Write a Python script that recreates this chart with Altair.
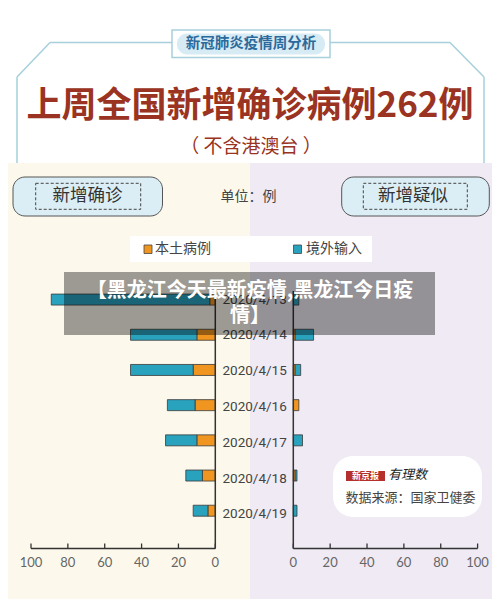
import altair as alt
import pandas as pd

# ---------------- data ----------------
dates = ["2020/4/13", "2020/4/14", "2020/4/15", "2020/4/16", "2020/4/17", "2020/4/18", "2020/4/19"]
confirmed_local = [3, 10, 12, 11, 10, 7, 4]
confirmed_imported = [86, 36, 34, 15, 17, 9, 8]
suspect_local = [0, 1, 1, 3, 0, 1, 0]
suspect_imported = [3, 10, 3, 0, 5, 1, 2]
series = ["本土病例", "境外输入"]
series_colors = ["#F0951F", "#29A2BE"]
tick_values = [0, 20, 40, 60, 80, 100]

tag_text = "新冠肺炎疫情周分析"
title_main = "上周全国新增确诊病例262例"
title_sub = "（ 不含港澳台 ）"
left_head = "新增确诊"
right_head = "新增疑似"
unit_text = "单位：例"
banner_l1 = "【黑龙江今天最新疫情,黑龙江今日疫"
banner_l2 = "情】"
brand_text = "新京报"
brand_sub = "有理数"
source_text = "数据来源：国家卫健委"

# ---------------- layout ----------------
W, H, OFF = 484, 591, 8
def P(v):
    return v - OFF

FONT = "Noto Sans CJK SC"
LZ, RZ, PPU = P(215.3), P(293.3), 1.843
Y0, STEP = P(299.5), 35.8

xL = alt.Scale(domain=[(LZ - W) / PPU, LZ / PPU], reverse=True, nice=False, zero=False)
xR = alt.Scale(domain=[-RZ / PPU, (W - RZ) / PPU], nice=False, zero=False)
yS = alt.Scale(domain=[-Y0 / STEP, (H - Y0) / STEP], reverse=True, nice=False, zero=False)

one = pd.DataFrame({"k": [0]})


def rect(x1, x2, y1, y2, **kw):
    return alt.Chart(one).mark_rect(**kw).encode(
        x=alt.value(P(x1)), x2=alt.value(P(x2)), y=alt.value(P(y1)), y2=alt.value(P(y2)))


def rule(x1, y1, x2, y2, **kw):
    return alt.Chart(one).mark_rule(**kw).encode(
        x=alt.value(P(x1)), y=alt.value(P(y1)), x2=alt.value(P(x2)), y2=alt.value(P(y2)))


def label(txt, x, y, **kw):
    kw.setdefault("font", FONT)
    return alt.Chart(one).mark_text(text=txt, baseline="middle", **kw).encode(
        x=alt.value(P(x)), y=alt.value(P(y)))


layers = []
# backgrounds
layers.append(rect(0, 250, 163, 599, fill="#FCF9EC"))
layers.append(rect(250, 492, 163, 599, fill="#EFEAF4"))

# header frame
LINE = "#A6D0DC"
layers += [
    rule(50, 42.5, 172, 42.5, color=LINE, strokeWidth=1.5),
    rule(330, 42.5, 450, 42.5, color=LINE, strokeWidth=1.5),
    rule(50, 42.5, 17, 77, color=LINE, strokeWidth=1.5),
    rule(450, 42.5, 484, 77, color=LINE, strokeWidth=1.5),
    rule(17, 77, 17, 163, color=LINE, strokeWidth=1.5),
    rule(484, 77, 484, 163, color=LINE, strokeWidth=1.5),
    rect(172, 330, 30, 57.5, fill="white", stroke=LINE, strokeWidth=1.5),
    rect(177, 325, 33.5, 54.5, fill="#D7EBF5", cornerRadius=10),
    label(tag_text, 251, 44, fontSize=14.5, fontWeight="bold", color="#2C6A9C"),
    label(title_main, 250, 106, fontSize=35, fontWeight="bold", color="#9A3322"),
    label(title_sub, 251, 147, fontSize=19, color="#9A3322"),
]

# panel headers
for (bx1, bx2, dx1, dx2, txt, tx) in [(13, 162.5, 35.7, 140.7, left_head, 87.5),
                                       (341.7, 489.3, 363.3, 467.3, right_head, 413)]:
    layers.append(rect(bx1, bx2, 177, 216, fill="#DCEEF5", stroke="#555", strokeWidth=1, cornerRadius=12))
    layers.append(rect(dx1, dx2, 183.3, 209.3, fillOpacity=0, stroke="#444", strokeWidth=1, strokeDash=[3, 2]))
    layers.append(label(txt, tx, 196, fontSize=17.5, color="#333"))
layers.append(label(unit_text, 248.5, 197, fontSize=14, color="#444"))

# legend
layers.append(rect(130, 372, 236, 262, fill="white"))
layers.append(rect(144, 152, 245, 253.5, fill=series_colors[0], stroke="#444", strokeWidth=0.8))
layers.append(label(series[0], 155, 249, fontSize=14, color="#444", align="left"))
layers.append(rect(293.5, 301.5, 245, 253.5, fill=series_colors[1], stroke="#444", strokeWidth=0.8))
layers.append(label(series[1], 306, 249, fontSize=14, color="#444", align="left"))

# source box
layers.append(rect(333, 482, 456, 517, fill="white", cornerRadius=20))
layers.append(rect(346, 385, 471, 481, fill="#B5302C"))
layers.append(label(brand_text, 365.5, 476, fontSize=9, fontWeight="bold", color="white"))
layers.append(label(brand_sub, 388, 474.5, fontSize=13, fontStyle="italic", color="#222", align="left"))
layers.append(label(source_text, 410.5, 498, fontSize=13, color="#444"))


# bars
def stacked(local, imported):
    rows = []
    for i, d in enumerate(dates):
        if local[i] > 0:
            rows.append(dict(date=d, idx=i, type=series[0], start=0, end=local[i]))
        if imported[i] > 0:
            rows.append(dict(date=d, idx=i, type=series[1], start=local[i], end=local[i] + imported[i]))
    return pd.DataFrame(rows)


color = alt.Color("type:N", scale=alt.Scale(domain=series, range=series_colors), legend=None)


def bars(df, xs):
    return alt.Chart(df).mark_bar(orient="horizontal", size=11, stroke="#3a3a3a", strokeWidth=0.8).encode(
        x=alt.X("start:Q", scale=xs, axis=None), x2="end:Q",
        y=alt.Y("idx:Q", scale=yS, axis=None), color=color)


ticks = pd.DataFrame({"v": tick_values})
span = pd.DataFrame({"a": [min(tick_values)], "b": [max(tick_values)]})


def axis(xs):
    tk = alt.Chart(ticks).mark_rule(color="#333", strokeWidth=1.3).encode(
        x=alt.X("v:Q", scale=xs, axis=None), y=alt.value(P(543.5)), y2=alt.value(P(548.5)))
    lab = alt.Chart(ticks).mark_text(font="Lato", fontSize=13, color="#666", baseline="middle").encode(
        x=alt.X("v:Q", scale=xs, axis=None), y=alt.value(P(563)), text="v:Q")
    base = alt.Chart(span).mark_rule(color="#333", strokeWidth=1.5).encode(
        x=alt.X("a:Q", scale=xs, axis=None), x2="b:Q", y=alt.value(P(548.5)))
    vert = alt.Chart(span).mark_rule(color="#333", strokeWidth=1.5).encode(
        x=alt.X("a:Q", scale=xs, axis=None), y=alt.value(P(291)), y2=alt.value(P(548.5)))
    return [tk, lab, base, vert]


layers.append(bars(stacked(confirmed_local, confirmed_imported), xL))
layers.append(bars(stacked(suspect_local, suspect_imported), xR))
layers += axis(xL)
layers += axis(xR)

date_df = pd.DataFrame({"date": dates, "idx": list(range(len(dates)))})
layers.append(alt.Chart(date_df).mark_text(align="left", baseline="middle", fontSize=13.5, font="Roboto", color="#444").encode(
    x=alt.value(P(222.5)), y=alt.Y("idx:Q", scale=yS, axis=None), text="date:N"))

# banner overlay
layers.append(rect(64, 435, 272, 335, fill="black", opacity=0.38))
layers.append(label(banner_l1, 250, 291, fontSize=20, fontWeight="bold", color="white"))
layers.append(label(banner_l2, 250, 316, fontSize=20, fontWeight="bold", color="white"))

chart = alt.layer(*layers).resolve_scale(x="independent", y="independent").properties(
    width=W, height=H, autosize=alt.AutoSizeParams(type="none"), padding=0, background="white"
).configure_view(strokeWidth=0)

chart.save("out.html", embed_options={"renderer": "svg", "actions": False})
